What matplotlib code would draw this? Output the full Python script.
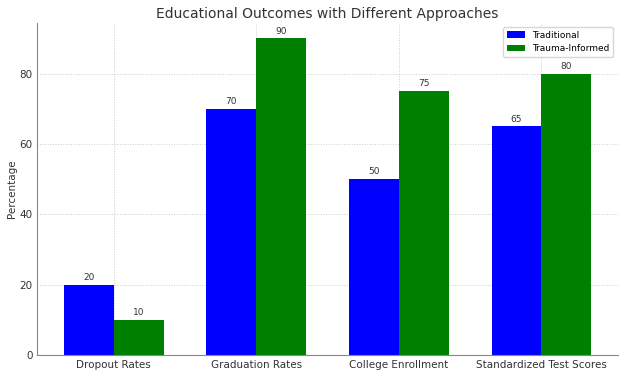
import numpy as np
import matplotlib
matplotlib.use('agg')
import matplotlib.pyplot as plt

categories = ['Dropout Rates', 'Graduation Rates', 'College Enrollment', 'Standardized Test Scores']
traditional = [20, 70, 50, 65]
trauma_informed = [10, 90, 75, 80]

x = np.arange(len(categories))
width = 0.35

fig, ax = plt.subplots(figsize=(6.24, 3.76), dpi=100)
b1 = ax.bar(x - width / 2, traditional, width, label='Traditional', color='blue')
b2 = ax.bar(x + width / 2, trauma_informed, width, label='Trauma-Informed', color='green')

for bars in (b1, b2):
    for rect in bars:
        h = rect.get_height()
        ax.annotate('{}'.format(h), xy=(rect.get_x() + rect.get_width() / 2, h),
                    xytext=(0, 2), textcoords='offset points',
                    ha='center', va='bottom', fontsize=6.5, color='#333333')

ax.set_title('Educational Outcomes with Different Approaches', fontsize=10, color='#333333', pad=3)
ax.set_ylabel('Percentage', fontsize=7.5, color='#333333', labelpad=2)
ax.set_xticks(x)
ax.set_xticklabels(categories)
ax.tick_params(labelsize=7.5, colors='#333333', length=0)
ax.grid(True, linestyle=':', color='#cccccc', linewidth=0.7)
ax.set_axisbelow(True)
for s in ('top', 'right'):
    ax.spines[s].set_visible(False)
for s in ('left', 'bottom'):
    ax.spines[s].set_color('#888888')
ax.legend(fontsize=6.5, loc='upper right')

plt.subplots_adjust(left=0.06, right=0.99, top=0.94, bottom=0.055)
plt.savefig('out.png', dpi=100)
